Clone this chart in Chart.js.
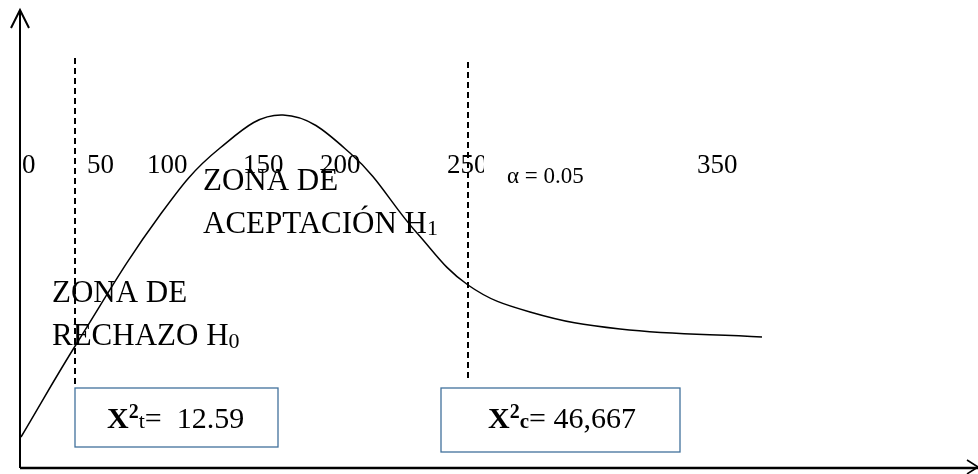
<!DOCTYPE html>
<html>
<head>
<meta charset="utf-8">
<script src="https://cdn.jsdelivr.net/npm/chart.js@4"></script>
<style>
	body { margin: 0; background: #fff; }
	#wrap { width: 978px; height: 474px; }
</style>
</head>
<body>
<div id="wrap"><canvas id="chart" width="978" height="474"></canvas></div>
<script>
// curve
const curveX = [1, 57, 140, 200, 263, 330, 397, 448, 510, 600, 742];
const curveY = [31, 125, 253, 320, 353, 315, 235, 183, 156, 139, 131];

// critical lines
const critX = [55, 448];
const critTop = [410, 406];
const critBottom = [80, 88];

const tickLabels = ['0', '50', '100', '150', '200', '250', '350'];
const alphaText = 'α = 0.05';
const chiTable = '12.59';
const chiCalc = '46,667';

document.addEventListener('DOMContentLoaded', function() {
	const tickPos = [2, 67, 127, 223, 300, 427, 677];
	const serif = '"Liberation Serif", "Times New Roman", serif';

	function drawRich(ctx, x, y, parts) {
		parts.forEach(p => {
			ctx.font = (p.bold ? 'bold ' : '') + p.size + 'px ' + serif;
			ctx.fillText(p.t, x, y + (p.dy || 0));
			x += ctx.measureText(p.t).width;
		});
	}

	const diagram = {
		id: 'diagram',
		beforeDatasetsDraw(chart) {
			const ctx = chart.ctx;
			const sx = chart.scales.x, sy = chart.scales.y;
			const px = v => sx.getPixelForValue(v);
			const py = v => sy.getPixelForValue(v);
			ctx.save();
			// boxes
			ctx.strokeStyle = '#41719c';
			ctx.lineWidth = 1.3;
			[[55, 258, 80, 21], [421, 660, 80, 16]].forEach(b => {
				ctx.fillStyle = '#fff';
				ctx.fillRect(px(b[0]), py(b[2]), px(b[1]) - px(b[0]), py(b[3]) - py(b[2]));
				ctx.strokeRect(px(b[0]), py(b[2]), px(b[1]) - px(b[0]), py(b[3]) - py(b[2]));
			});
			ctx.restore();
		},
		afterDatasetsDraw(chart) {
			const ctx = chart.ctx;
			const sx = chart.scales.x, sy = chart.scales.y;
			const px = v => sx.getPixelForValue(v);
			const py = v => sy.getPixelForValue(v);
			ctx.save();
			ctx.fillStyle = '#000';
			ctx.textAlign = 'left';
			ctx.textBaseline = 'alphabetic';

			// number labels
			ctx.font = '27px ' + serif;
			tickLabels.forEach((t, i) => {
				ctx.save();
				if (t === '250') {
					ctx.beginPath();
					ctx.rect(0, 0, px(464), chart.height);
					ctx.clip();
				}
				ctx.fillText(t, px(tickPos[i]), py(295));
				ctx.restore();
			});
			ctx.font = '23px ' + serif;
			ctx.fillText(alphaText, px(487), py(285));

			// zones
			ctx.font = '31px ' + serif;
			ctx.fillText('ZONA DE', px(183), py(278));
			drawRich(ctx, px(183), py(235), [{ t: 'ACEPTACIÓN H', size: 31 }, { t: '1', size: 22, dy: 2 }]);
			ctx.font = '31px ' + serif;
			ctx.fillText('ZONA DE', px(32), py(166));
			drawRich(ctx, px(32), py(123), [{ t: 'RECHAZO H', size: 31 }, { t: '0', size: 22, dy: 3 }]);

			// box texts
			drawRich(ctx, px(87), py(40), [
				{ t: 'X', size: 30, bold: true },
				{ t: '2', size: 20, bold: true, dy: -10 },
				{ t: 't', size: 22, dy: 0 },
				{ t: '=  ' + chiTable, size: 30 }
			]);
			drawRich(ctx, px(468), py(40), [
				{ t: 'X', size: 30, bold: true },
				{ t: '2', size: 20, bold: true, dy: -10 },
				{ t: 'c', size: 21, bold: true, dy: 0 },
				{ t: '= ' + chiCalc, size: 30 }
			]);

			// axes with arrows
			ctx.strokeStyle = '#000';
			ctx.lineCap = 'butt';
			ctx.lineWidth = 2;
			ctx.beginPath();
			ctx.moveTo(px(0), py(0));
			ctx.lineTo(px(0), py(458));
			ctx.stroke();
			ctx.beginPath();
			ctx.moveTo(px(-9), py(440));
			ctx.lineTo(px(0), py(458));
			ctx.lineTo(px(9), py(440));
			ctx.stroke();
			ctx.lineWidth = 2.5;
			ctx.beginPath();
			ctx.moveTo(px(0), py(0));
			ctx.lineTo(px(958), py(0));
			ctx.stroke();
			ctx.lineWidth = 1.5;
			ctx.beginPath();
			ctx.moveTo(px(947), py(8));
			ctx.lineTo(px(958), py(1));
			ctx.lineTo(px(947), py(-6));
			ctx.stroke();
			ctx.restore();
		}
	};

	const ctx = document.getElementById('chart').getContext('2d');
	new Chart(ctx, {
		type: 'line',
		data: {
			datasets: [
				{
					data: curveX.map((x, i) => ({ x: x, y: curveY[i] })),
					borderColor: '#000',
					borderWidth: 1.5,
					pointRadius: 0,
					tension: 0.4,
					fill: false
				},
				...critX.map((x, i) => ({
					data: [{ x: x, y: critTop[i] }, { x: x, y: critBottom[i] }],
					borderColor: '#000',
					borderWidth: 2,
					borderDash: [6, 4],
					pointRadius: 0,
					fill: false
				}))
			]
		},
		options: {
			responsive: false,
			animation: false,
			layout: { padding: { left: 20, right: 3, top: 10, bottom: 6 } },
			plugins: { legend: { display: false }, tooltip: { enabled: false } },
			scales: {
				x: { type: 'linear', min: 0, max: 955, display: false },
				y: { type: 'linear', min: 0, max: 458, display: false }
			}
		},
		plugins: [diagram]
	});
});
</script>
</body>
</html>
